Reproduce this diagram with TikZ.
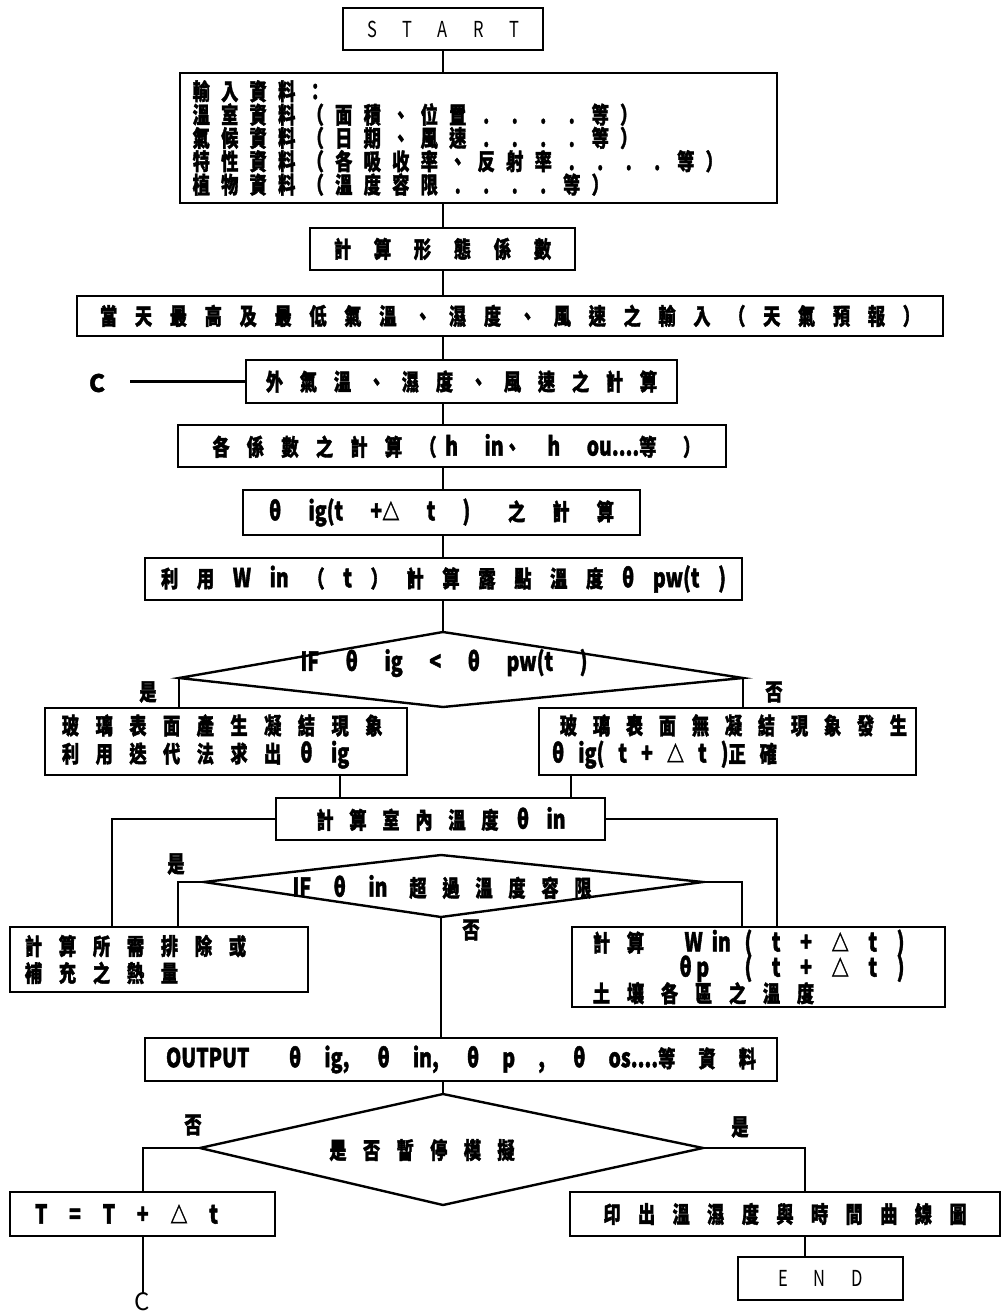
\documentclass[tikz,border=0pt]{standalone}
\usepackage{fontspec}
\usepackage{graphicx}
\setmainfont{Noto Sans CJK TC}[BoldFeatures={FakeBold=1.8}]
\usetikzlibrary{calc}

% characters set on a fixed pitch, each one condensed
\newlength\gridpitch
\newcommand\grid[2]{\setlength\gridpitch{#1}\gridloop#2\relax}
\newcommand\gridloop[1]{\ifx\relax#1\else\makebox[\gridpitch]{\scalebox{0.75}[1]{#1}}\expandafter\gridloop\fi}
% a condensed line spread out to a given width (in pt) over its spaces
\newcommand\sline[2]{\scalebox{0.75}[1]{\makebox[\dimexpr #1pt*100/75\relax][s]{\spaceskip=4pt plus 1fil\xspaceskip=4pt plus 1fil\relax #2}}}
% Latin letters and Greek set taller than the CJK text
\newcommand\lat[1]{{\fontsize{26pt}{26pt}\selectfont #1}}
\newcommand\latx[1]{\scalebox{0.75}[1]{\lat{#1}}}

\newcommand\cjk{\fontsize{23pt}{21.5pt}\selectfont\bfseries}
\newcommand\thinfont{\fontsize{22pt}{24pt}\selectfont\mdseries}
\newcommand\cfont{\fontsize{24pt}{26pt}\selectfont\bfseries}

\tikzset{
  box/.style={draw, line width=2.6pt, inner sep=0pt, font=\cjk},
  conn/.style={line width=2.3pt},
  lbl/.style={inner sep=0pt, font=\cjk},
  diam/.style={line width=2.4pt, line join=miter}
}

\begin{document}
\begin{tikzpicture}[x=1pt, y=-1pt]
\fill[white] (0,0) rectangle (1005,1313);
\useasboundingbox (0,0) rectangle (1005,1313);

% guide columns for vertical connectors
\coordinate (sp) at (443,0);
\coordinate (jl) at (340,0);
\coordinate (jr) at (571,0);
\coordinate (lxl) at (112,0);
\coordinate (rxl) at (777,0);
\coordinate (lbx) at (178,0);
\coordinate (rbx) at (742,0);
\coordinate (tx) at (143,0);
\coordinate (px) at (805,0);
\coordinate (cl) at (130,0);

% ---- boxes ----
\node[box, font=\thinfont, minimum width=200pt, minimum height=42pt] (start) at (443,29) {\sline{152}{S T A R T}};

\node[box, minimum width=597pt, minimum height=130pt, text width=583pt, inner xsep=7pt, align=left] (input) at (478.5,138)
  {\grid{28.5pt}{輸入資料：}\\
   \grid{28.5pt}{溫室資料（面積、位置....等）}\\
   \grid{28.5pt}{氣候資料（日期、風速....等）}\\
   \grid{28.5pt}{特性資料（各吸收率、反射率....等）}\\
   \grid{28.5pt}{植物資料（溫度容限....等）}};

\node[box, minimum width=265pt, minimum height=42pt] (shape) at (442.5,249) {\grid{40pt}{計算形態係數}};

\node[box, minimum width=866pt, minimum height=40pt] (weather) at (510,316) {\grid{34.9pt}{當天最高及最低氣溫、濕度、風速之輸入（天氣預報）}};

\node[box, minimum width=431pt, minimum height=43pt] (outer) at (461.5,381.5) {\grid{34pt}{外氣溫、濕度、風速之計算}};
\node[lbl, font=\cfont] (c1) at (97,383) {C};

\node[box, minimum width=548pt, minimum height=42pt] (coef) at (452,446)
  {\grid{34.5pt}{各係數之計算（}\sline{255}{\lat{h} \lat{in}、 \lat{h} \lat{ou....}等 ）}};

\node[box, minimum width=397pt, minimum height=45pt] (thig) at (441.5,512.5)
  {\sline{345}{\lat{θ} \lat{ig(t} \lat{+}△ \lat{t} \lat{)}\hspace{14pt} 之 計 算}};

\node[box, minimum width=597pt, minimum height=42pt] (win) at (443.5,579)
  {\sline{565}{利 用 \lat{W} \lat{in} （ \lat{t} ） 計 算 露 點 溫 度 \lat{θ} \lat{pw(t} \lat{)}}};

% first decision
\coordinate (d1n) at (443,632);
\coordinate (d1w) at (179,678);
\coordinate (d1e) at (743,678);
\coordinate (d1s) at (443,707);
\draw[diam] (d1n) -- (d1e) -- (d1s) -- (d1w) -- cycle;
\node[lbl] (d1t) at (444,663) {\sline{287}{\lat{IF} \lat{θ} \lat{ig} \lat{<} \lat{θ} \lat{pw(t} \lat{)}}};
\node[lbl] (y1) at (148,692) {\scalebox{0.75}[1]{是}};
\node[lbl] (n1) at (774,692) {\scalebox{0.75}[1]{否}};

\node[box, minimum width=362pt, minimum height=67pt, text width=344.6pt, inner xsep=8.7pt, align=left] (lb1) at (226,741.5)
  {\grid{33.7pt}{玻璃表面產生凝結現象}\\[3pt]\grid{33.7pt}{利用迭代法求出{\lat{θ}}{\lat{ig}}}};
\node[box, minimum width=377pt, minimum height=67pt, text width=351pt, inner xsep=13pt, align=left] (rb1) at (727.5,741.5)
  {\grid{33pt}{玻璃表面無凝結現象發生}\\[3pt]\sline{225}{\lat{θ} \lat{ig(} \lat{t} \lat{+} △ \lat{t} \lat{)}正 確}};

\node[box, minimum width=329pt, minimum height=42pt] (room) at (440.5,819) {\grid{33pt}{計算室內溫度{\lat{θ}}{\lat{in}}}};

% second decision
\coordinate (d2n) at (441,855);
\coordinate (d2w) at (204,882);
\coordinate (d2e) at (703,882);
\coordinate (d2s) at (441,917);
\draw[diam] (d2n) -- (d2e) -- (d2s) -- (d2w) -- cycle;
\node[lbl] (d2t) at (446,887) {\sline{95}{\lat{IF} \lat{θ} \lat{in}}\hspace{14pt}\grid{33pt}{超過溫度容限}};
\node[lbl] (y2) at (176,864) {\scalebox{0.75}[1]{是}};
\node[lbl] (n2) at (471,930) {\scalebox{0.75}[1]{否}};

\node[box, minimum width=298pt, minimum height=65pt, text width=285pt, inner xsep=6.5pt, align=left] (lb2) at (159,959.5)
  {\grid{34pt}{計算所需排除或}\\[3.5pt]\grid{34pt}{補充之熱量}};
\node[box, minimum width=373pt, minimum height=80pt, text width=348pt, inner xsep=12.5pt, align=left] (rb2) at (758.5,967)
  {\makebox[100pt][l]{\grid{34pt}{計算}}\makebox[60pt][l]{\latx{W\hspace{12pt}in}}\sline{160}{\lat{(} \lat{t} \lat{+} △ \lat{t} \lat{)}}\\[-3pt]
   \hspace*{95pt}\makebox[65pt][l]{\latx{θ\hspace{6pt}p}}\sline{160}{\lat{(} \lat{t} \lat{+} △ \lat{t} \lat{)}}\\[-1pt]
   \grid{34pt}{土壤各區之溫度}};

\node[box, minimum width=632pt, minimum height=43pt] (out) at (461,1059.5)
  {\sline{590}{\lat{OUTPUT}\hspace{22pt} \lat{θ} \lat{ig,} \lat{θ} \lat{in,} \lat{θ} \lat{p} \lat{,} \lat{θ} \lat{os....}等 資 料}};

% third decision
\coordinate (d3n) at (443,1094);
\coordinate (d3w) at (200,1148);
\coordinate (d3e) at (703,1148);
\coordinate (d3s) at (443,1205);
\draw[diam] (d3n) -- (d3e) -- (d3s) -- (d3w) -- cycle;
\node[lbl] (d3t) at (422,1150) {\grid{33.6pt}{是否暫停模擬}};
\node[lbl] (n3) at (193,1125) {\scalebox{0.75}[1]{否}};
\node[lbl] (y3) at (740,1127) {\scalebox{0.75}[1]{是}};

\node[box, minimum width=265pt, minimum height=44pt, text width=215pt, inner xsep=25pt, align=left] (tb) at (142.5,1214)
  {\sline{183}{\lat{T} \lat{=} \lat{T} \lat{+} △ \lat{t}}};
\node[box, minimum width=430pt, minimum height=44pt] (pb) at (785,1214) {\grid{34.6pt}{印出溫濕度與時間曲線圖}};
\node[box, font=\thinfont, minimum width=165pt, minimum height=43pt] (end) at (820.5,1278.5) {\sline{85}{E N D}};
\node[lbl, font=\fontsize{24pt}{26pt}\selectfont\mdseries] (c2) at (142,1302) {C};

% ---- connectors ----
\draw[conn] (sp |- start.south) -- (sp |- input.north);
\draw[conn] (sp |- input.south) -- (sp |- shape.north);
\draw[conn] (sp |- shape.south) -- (sp |- weather.north);
\draw[conn] (sp |- weather.south) -- (sp |- outer.north);
\draw[conn] (outer.west) -- (outer.west -| cl);
\draw[conn] (sp |- outer.south) -- (sp |- coef.north);
\draw[conn] (sp |- coef.south) -- (sp |- thig.north);
\draw[conn] (sp |- thig.south) -- (sp |- win.north);
\draw[conn] (sp |- win.south) -- (d1n);
\draw[conn] (d1w) -- (d1w |- lb1.north);
\draw[conn] (d1e) -- (d1e |- rb1.north);
\draw[conn] (jl |- lb1.south) -- (jl |- room.north);
\draw[conn] (jr |- rb1.south) -- (jr |- room.north);
\draw[conn] (room.west) -| (lxl |- lb2.north);
\draw[conn] (room.east) -| (rxl |- rb2.north);
\draw[conn] (d2w) -| (lbx |- lb2.north);
\draw[conn] (d2e) -| (rbx |- rb2.north);
\draw[conn] (d2s) -- (d2s |- out.north);
\draw[conn] (sp |- out.south) -- (d3n);
\draw[conn] (d3w) -| (tx |- tb.north);
\draw[conn] (d3e) -| (px |- pb.north);
\draw[conn] (tx |- tb.south) -- (tx |- c2.north);
\draw[conn] (px |- pb.south) -- (px |- end.north);
\end{tikzpicture}
\end{document}
